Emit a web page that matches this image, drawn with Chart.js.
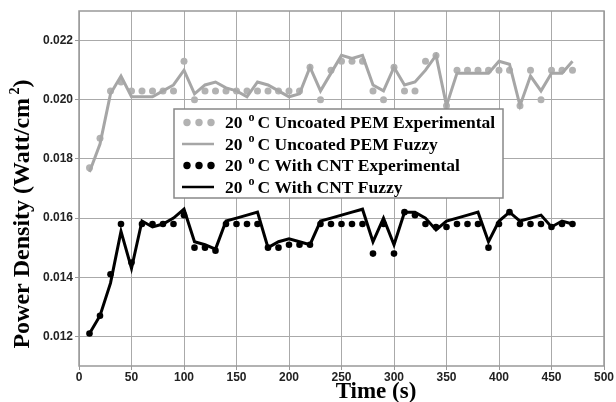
<!DOCTYPE html>
<html>
<head>
<meta charset="utf-8">
<script src="https://cdn.jsdelivr.net/npm/chart.js@4.4.1/dist/chart.umd.min.js"></script>
<style>
  html, body { margin: 0; padding: 0; background: #fff; }
  #wrap { width: 616px; height: 402px; }
</style>
</head>
<body>
<div id="wrap"><canvas id="powerChart" width="616" height="402"></canvas></div>
<script>
// time axis (s)
const timeSec = [10, 20, 30, 40, 50, 60, 70, 80, 90, 100,
  110, 120, 130, 140, 150, 160, 170, 180, 190, 200,
  210, 220, 230, 240, 250, 260, 270, 280, 290, 300,
  310, 320, 330, 340, 350, 360, 370, 380, 390, 400,
  410, 420, 430, 440, 450, 460, 470];

const uncoatedExp = [0.0177, 0.0187, 0.0203, 0.0206, 0.0203, 0.0203, 0.0203, 0.0203, 0.0203, 0.0213,
  0.0200, 0.0203, 0.0203, 0.0203, 0.0203, 0.0203, 0.0203, 0.0203, 0.0203, 0.0203,
  0.0203, 0.0211, 0.0200, 0.0210, 0.0213, 0.0213, 0.0213, 0.0203, 0.0200, 0.0211,
  0.0203, 0.0203, 0.0213, 0.0215, 0.0198, 0.0210, 0.0210, 0.0210, 0.0210, 0.0210,
  0.0210, 0.0198, 0.0210, 0.0200, 0.0210, 0.0210, 0.0210];

const uncoatedFuzzy = [0.01756, 0.0185, 0.0202, 0.0208, 0.0201, 0.0201, 0.0201, 0.0203, 0.0205, 0.0210,
  0.0202, 0.0205, 0.0206, 0.0204, 0.0203, 0.0201, 0.0206, 0.0205, 0.0203, 0.0201,
  0.0202, 0.0211, 0.0203, 0.0209, 0.0215, 0.0214, 0.0215, 0.0205, 0.0203, 0.0211,
  0.0205, 0.0206, 0.0210, 0.0215, 0.0198, 0.0209, 0.0209, 0.0209, 0.0209, 0.0213,
  0.0212, 0.0198, 0.0208, 0.0203, 0.0209, 0.0209, 0.0213];

const cntExp = [0.0121, 0.0127, 0.0141, 0.0158, 0.0145, 0.0158, 0.0158, 0.0158, 0.0158, 0.0161,
  0.0150, 0.0150, 0.0149, 0.0158, 0.0158, 0.0158, 0.0158, 0.0150, 0.0150, 0.0151,
  0.0151, 0.0151, 0.0158, 0.0158, 0.0158, 0.0158, 0.0158, 0.0148, 0.0158, 0.0148,
  0.0162, 0.0161, 0.0158, 0.0157, 0.0157, 0.0158, 0.0158, 0.0158, 0.0150, 0.0158,
  0.0162, 0.0158, 0.0158, 0.0158, 0.0157, 0.0158, 0.0158];

const cntFuzzy = [0.0121, 0.0127, 0.0138, 0.01555, 0.0143, 0.0159, 0.0157, 0.0158, 0.0160, 0.0163,
  0.0152, 0.0151, 0.01495, 0.0159, 0.0160, 0.0161, 0.0162, 0.0150, 0.0152, 0.0153,
  0.0152, 0.0151, 0.0159, 0.0160, 0.0161, 0.0162, 0.0163, 0.0152, 0.0160, 0.0151,
  0.0162, 0.0162, 0.0160, 0.0156, 0.0159, 0.0160, 0.0161, 0.0162, 0.0152, 0.0159,
  0.0162, 0.0159, 0.0160, 0.0161, 0.0157, 0.0159, 0.0158];

const legendNames = ['Uncoated PEM Experimental', 'Uncoated PEM Fuzzy', 'With CNT Experimental', 'With CNT Fuzzy'];

const GRAY = '#a6a6a6';
const DOT_GRAY = '#b2b2b2';
const BLACK = '#000';
const toPts = (vals) => timeSec.map((t, i) => ({ x: t, y: vals[i] }));

const serif = "'Liberation Serif', 'Times New Roman', serif";

// draws frame, axis titles and the boxed legend
const extrasPlugin = {
  id: 'extras',
  afterDraw(chart) {
    const ctx = chart.ctx;
    const a = chart.chartArea;
    ctx.save();
    ctx.strokeStyle = '#999';
    ctx.lineWidth = 1.5;
    ctx.strokeRect(a.left, a.top, a.right - a.left, a.bottom - a.top);

    // x title
    ctx.fillStyle = '#000';
    ctx.font = 'bold 23px ' + serif;
    ctx.textAlign = 'center';
    ctx.textBaseline = 'middle';
    ctx.fillText('Time (s)', 376, 392);

    // y title with superscript
    ctx.save();
    ctx.translate(23, 214);
    ctx.rotate(-Math.PI / 2);
    ctx.textAlign = 'left';
    const main = 'Power Density (Watt/cm';
    ctx.font = 'bold 24px ' + serif;
    const w1 = ctx.measureText(main).width;
    ctx.font = 'bold 14px ' + serif;
    const w2 = ctx.measureText(' 2').width;
    ctx.font = 'bold 24px ' + serif;
    const w3 = ctx.measureText(')').width;
    let x0 = -(w1 + w2 + w3) / 2;
    ctx.fillText(main, x0, 0);
    ctx.font = 'bold 14px ' + serif;
    ctx.fillText(' 2', x0 + w1, -8);
    ctx.font = 'bold 24px ' + serif;
    ctx.fillText(')', x0 + w1 + w2, 0);
    ctx.restore();

    // legend
    const bx = 174, by = 109, bw = 329, bh = 89;
    ctx.fillStyle = '#fff';
    ctx.fillRect(bx, by, bw, bh);
    ctx.strokeStyle = '#888';
    ctx.lineWidth = 1.5;
    ctx.strokeRect(bx, by, bw, bh);
    const ds = chart.data.datasets;
    const rows = [ds[1], ds[0], ds[3], ds[2]];
    rows.forEach((d, i) => {
      const cy = 122.5 + i * 21.5;
      if (d.showLine === false) {
        ctx.fillStyle = d.pointBackgroundColor;
        [187, 199, 211].forEach(px => {
          ctx.beginPath();
          ctx.arc(px, cy, 3.7, 0, Math.PI * 2);
          ctx.fill();
        });
      } else {
        ctx.strokeStyle = d.borderColor;
        ctx.lineWidth = 2.5;
        ctx.beginPath();
        ctx.moveTo(182, cy);
        ctx.lineTo(214, cy);
        ctx.stroke();
      }
      ctx.fillStyle = '#000';
      ctx.textAlign = 'left';
      ctx.textBaseline = 'middle';
      let tx = 225;
      ctx.font = 'bold 17.5px ' + serif;
      ctx.fillText('20', tx, cy + 1);
      tx += ctx.measureText('20').width + 6;
      ctx.font = 'bold 12px ' + serif;
      ctx.fillText('o', tx, cy - 5);
      tx += ctx.measureText('o').width + 3;
      ctx.font = 'bold 17.5px ' + serif;
      ctx.fillText('C ' + legendNames[i], tx, cy + 1);
    });
    ctx.restore();
  }
};

new Chart(document.getElementById('powerChart'), {
  type: 'scatter',
  data: {
    datasets: [
      { label: legendNames[1], data: toPts(uncoatedFuzzy), showLine: true, borderColor: GRAY, borderWidth: 3,
        pointRadius: 0, order: 0 },
      { label: legendNames[0], data: toPts(uncoatedExp), showLine: false, pointBackgroundColor: DOT_GRAY,
        pointBorderWidth: 0, pointRadius: 3.5, order: 1 },
      { label: legendNames[3], data: toPts(cntFuzzy), showLine: true, borderColor: BLACK, borderWidth: 3,
        pointRadius: 0, order: 0 },
      { label: legendNames[2], data: toPts(cntExp), showLine: false, pointBackgroundColor: BLACK,
        pointBorderWidth: 0, pointRadius: 3.3, order: 1 }
    ]
  },
  options: {
    responsive: false,
    animation: false,
    devicePixelRatio: 1,
    layout: { padding: { top: 11, right: 12, left: 0, bottom: 0 } },
    plugins: { legend: { display: false }, tooltip: { enabled: false } },
    scales: {
      x: {
        type: 'linear', min: 0, max: 500,
        ticks: { stepSize: 50, color: '#222', padding: 0, maxRotation: 0,
          font: { family: "'Liberation Sans', Arial, sans-serif", size: 12, weight: 'bold' } },
        grid: { color: '#aaa', borderDash: [1, 2], tickLength: 4, tickColor: '#999', tickBorderDash: [] },
        border: { display: false },
        afterFit(scale) { scale.height = 36; }
      },
      y: {
        type: 'linear', min: 0.011, max: 0.023,
        afterBuildTicks(scale) {
          scale.ticks = [0.012, 0.014, 0.016, 0.018, 0.020, 0.022].map(v => ({ value: v }));
        },
        ticks: { color: '#222', padding: 2,
          callback: (v) => v.toFixed(3),
          font: { family: "'Liberation Sans', Arial, sans-serif", size: 12, weight: 'bold' } },
        grid: { color: '#aaa', borderDash: [1, 2], tickLength: 4, tickColor: '#999', tickBorderDash: [] },
        border: { display: false },
        afterFit(scale) { scale.width = 79; }
      }
    }
  },
  plugins: [extrasPlugin]
});
</script>
</body>
</html>
